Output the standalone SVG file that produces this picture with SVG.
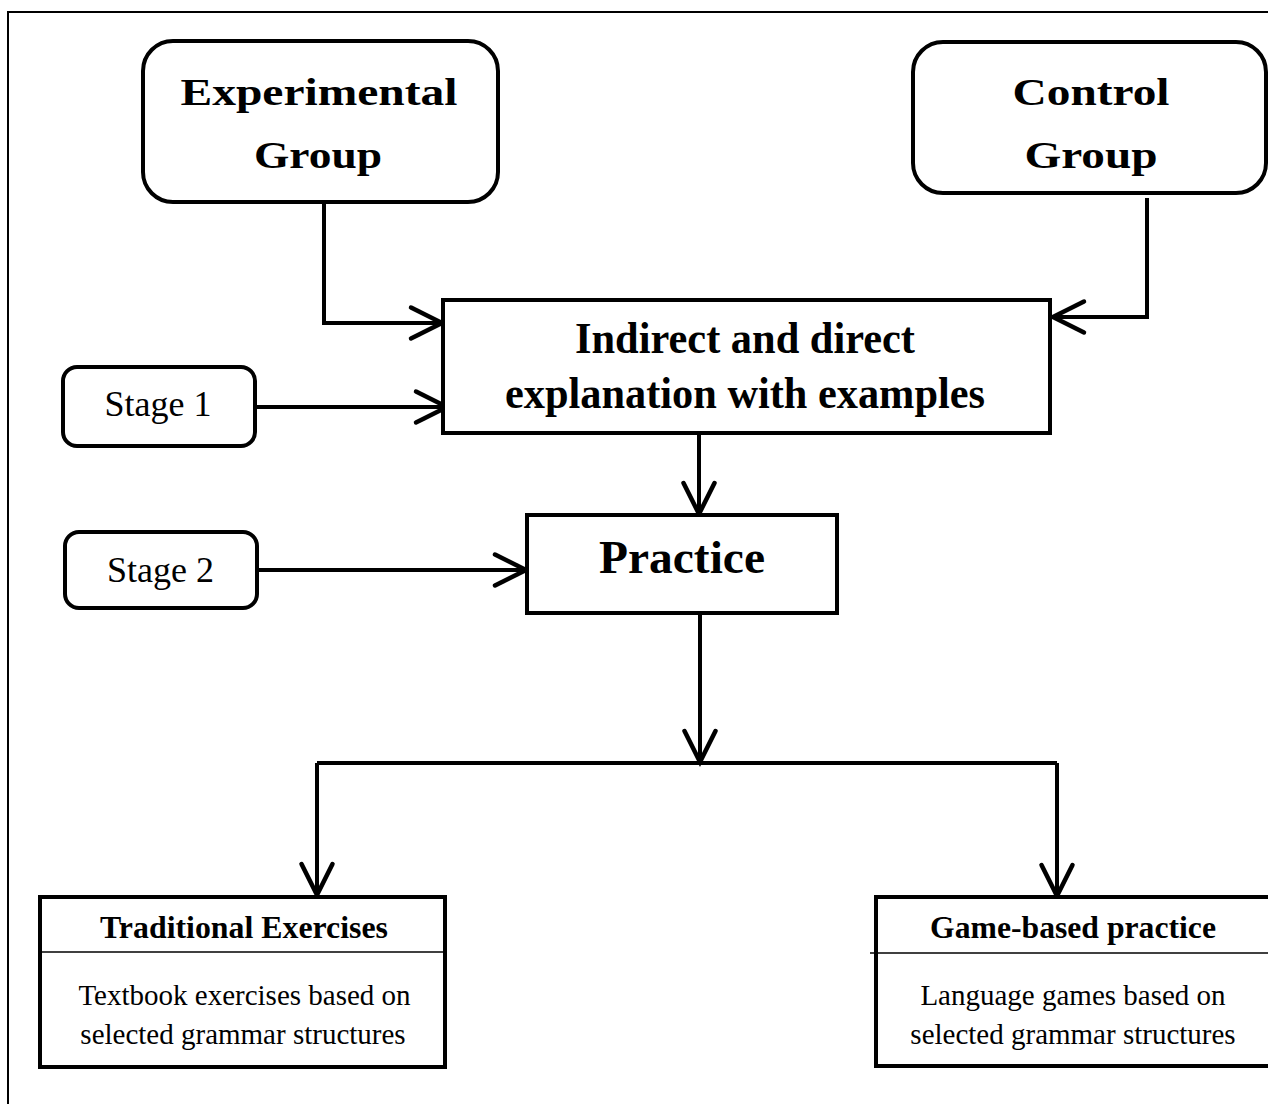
<svg xmlns="http://www.w3.org/2000/svg" width="1268" height="1104" viewBox="0 0 1268 1104">
  <style>
    .box { fill: #fff; stroke: #000; stroke-width: 4; }
    .conn { fill: none; stroke: #000; stroke-width: 4; stroke-linejoin: miter; }
    .div { stroke: #000; stroke-width: 1.5; }
    .frame { stroke: #000; stroke-width: 2; fill: none; }
    text { font-family: 'Liberation Serif', 'Times New Roman', Times, serif; fill: #000; text-anchor: middle; }
    .b { font-weight: bold; }
  </style>
  <defs>
    <marker id="arr" viewBox="-36 -20 40 40" refX="0" refY="0" markerWidth="40" markerHeight="40" markerUnits="userSpaceOnUse" orient="auto" overflow="visible">
      <path d="M-31,-15.5 L0,0 L-31,15.5" fill="none" stroke="#000" stroke-width="4.5" stroke-linecap="round" stroke-linejoin="miter"/>
    </marker>
  </defs>
  <rect width="1268" height="1104" fill="#fff"/>
  <path class="frame" d="M8,1104 V12 H1268"/>

  <g id="connectors">
    <path class="conn" d="M324,204 V323 H442" marker-end="url(#arr)"/>
    <path class="conn" d="M1147,198 V317 H1053" marker-end="url(#arr)"/>
    <path class="conn" d="M255,407 H447" marker-end="url(#arr)"/>
    <path class="conn" d="M699,434 V514" marker-end="url(#arr)"/>
    <path class="conn" d="M257,570 H526" marker-end="url(#arr)"/>
    <path class="conn" d="M700,613 V762" marker-end="url(#arr)"/>
    <path class="conn" d="M317,763 H1057"/>
    <path class="conn" d="M317,763 V895" marker-end="url(#arr)"/>
    <path class="conn" d="M1057,763 V896" marker-end="url(#arr)"/>
  </g>

  <g id="experimental-group">
    <rect class="box" x="143" y="41" width="355" height="161" rx="30"/>
    <text class="b" x="319" y="105" font-family="Liberation Serif" font-size="38" textLength="277" lengthAdjust="spacingAndGlyphs">Experimental</text>
    <text class="b" x="318" y="168" font-family="Liberation Serif" font-size="38" textLength="128" lengthAdjust="spacingAndGlyphs">Group</text>
  </g>

  <g id="control-group">
    <rect class="box" x="913" y="42" width="353" height="151" rx="30"/>
    <text class="b" x="1091" y="105" font-family="Liberation Serif" font-size="38" textLength="157" lengthAdjust="spacingAndGlyphs">Control</text>
    <text class="b" x="1091" y="168" font-family="Liberation Serif" font-size="38" textLength="133" lengthAdjust="spacingAndGlyphs">Group</text>
  </g>

  <g id="explanation">
    <rect class="box" x="443" y="300" width="607" height="133"/>
    <text class="b" x="745" y="353" font-family="Liberation Serif" font-size="45" textLength="340" lengthAdjust="spacingAndGlyphs">Indirect and direct</text>
    <text class="b" x="745" y="408" font-family="Liberation Serif" font-size="45" textLength="480" lengthAdjust="spacingAndGlyphs">explanation with examples</text>
  </g>

  <g id="stage-1">
    <rect class="box" x="63" y="367" width="192" height="79" rx="14"/>
    <text x="158" y="416" font-family="Liberation Serif" font-size="36">Stage 1</text>
  </g>

  <g id="stage-2">
    <rect class="box" x="65" y="532" width="192" height="76" rx="14"/>
    <text x="160.5" y="582" font-family="Liberation Serif" font-size="36">Stage 2</text>
  </g>

  <g id="practice">
    <rect class="box" x="527" y="515" width="310" height="98"/>
    <text class="b" x="682" y="573" font-family="Liberation Serif" font-size="47" textLength="166" lengthAdjust="spacingAndGlyphs">Practice</text>
  </g>

  <g id="traditional-exercises">
    <rect class="box" x="40" y="897" width="405" height="170"/>
    <line class="div" x1="40" y1="952" x2="445" y2="952"/>
    <text class="b" x="244" y="938" font-family="Liberation Serif" font-size="31.5" textLength="288" lengthAdjust="spacingAndGlyphs">Traditional Exercises</text>
    <text x="244.5" y="1005" font-family="Liberation Serif" font-size="29">Textbook exercises based on</text>
    <text x="243" y="1044" font-family="Liberation Serif" font-size="29">selected grammar structures</text>
  </g>

  <g id="game-based-practice">
    <rect class="box" x="876" y="897" width="396" height="169"/>
    <line class="div" x1="870" y1="953" x2="1268" y2="953"/>
    <text class="b" x="1073" y="938" font-family="Liberation Serif" font-size="31.5" textLength="286" lengthAdjust="spacingAndGlyphs">Game-based practice</text>
    <text x="1073" y="1005" font-family="Liberation Serif" font-size="29">Language games based on</text>
    <text x="1073" y="1044" font-family="Liberation Serif" font-size="29">selected grammar structures</text>
  </g>
</svg>
